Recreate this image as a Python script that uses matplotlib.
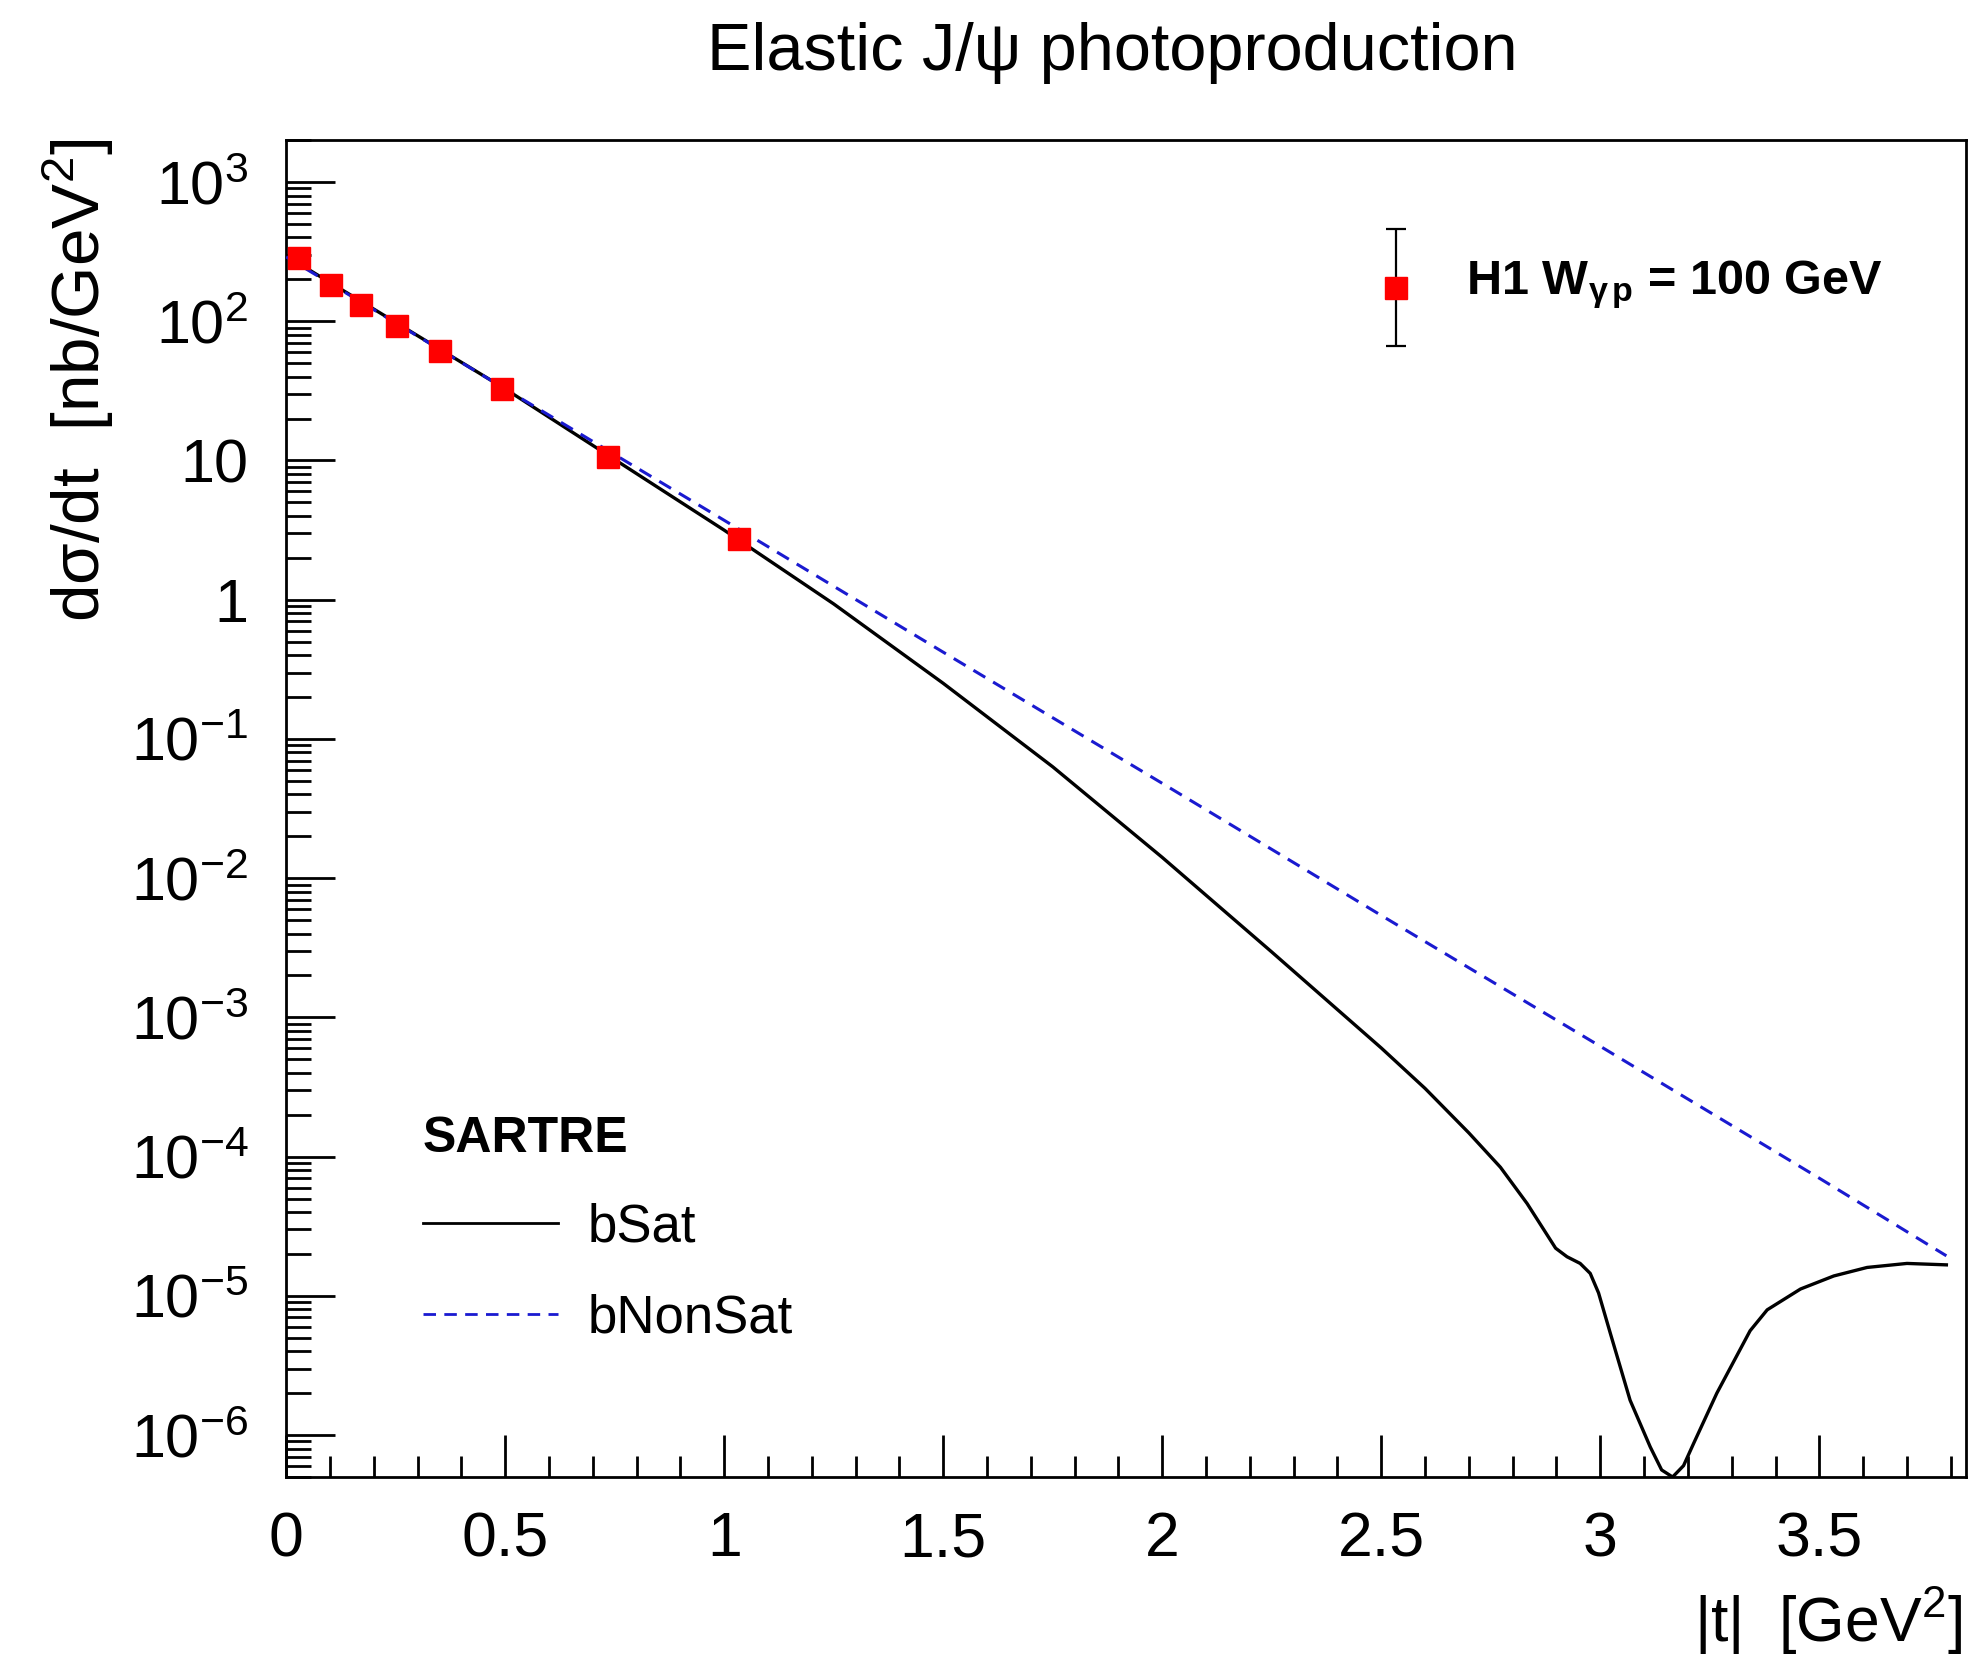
import numpy as np
import matplotlib
matplotlib.use("Agg")
import matplotlib.pyplot as plt
from matplotlib.ticker import FixedLocator, FuncFormatter, NullFormatter
from matplotlib.lines import Line2D
from matplotlib.legend_handler import HandlerErrorbar

plt.rcParams['font.family'] = ['Liberation Sans', 'DejaVu Sans']
plt.rcParams['mathtext.fontset'] = 'custom'
plt.rcParams['mathtext.rm'] = 'Liberation Sans'
plt.rcParams['mathtext.it'] = 'Liberation Sans'
plt.rcParams['mathtext.bf'] = 'Liberation Sans:bold'

# H1 data, W_gp = 100 GeV
t_h1 = [0.030, 0.102, 0.172, 0.253, 0.352, 0.493, 0.734, 1.034]
dsdt_h1 = [286, 181, 131, 92.4, 61.4, 32.6, 10.6, 2.71]
err_h1 = [20, 12, 9, 6, 4, 2.3, 0.8, 0.25]

# SARTRE bSat (solid)
t_bsat = [0.0, 0.5, 1.0, 1.25, 1.5, 1.75, 2.0, 2.25, 2.5, 2.6, 2.7, 2.772, 2.833,
          2.898, 2.924, 2.954, 2.977, 2.996, 3.023, 3.068, 3.114, 3.14, 3.165,
          3.19, 3.213, 3.266, 3.342, 3.381, 3.457, 3.533, 3.609, 3.70, 3.79]
dsdt_bsat = [295, 32.7, 3.16, 0.933, 0.251, 0.0631, 0.0141, 2.95e-3, 6.03e-4,
             3.09e-4, 1.48e-4, 8.39e-5, 4.60e-5, 2.20e-5, 1.91e-5, 1.71e-5,
             1.45e-5, 1.05e-5, 5.37e-6, 1.78e-6, 8.22e-7, 5.62e-7, 5.0e-7,
             6.03e-7, 8.71e-7, 2.0e-6, 5.62e-6, 7.94e-6, 1.12e-5, 1.39e-5,
             1.60e-5, 1.71e-5, 1.67e-5]

# SARTRE bNonSat (dashed)
t_bnonsat = [0.0, 0.5, 1.0, 1.5, 2.0, 2.5, 3.0, 3.5, 3.79]
dsdt_bnonsat = [290, 32.7, 3.72, 0.42, 0.048, 5.4e-3, 6.2e-4, 7.0e-5, 1.94e-5]

x_major = [0, 0.5, 1, 1.5, 2, 2.5, 3, 3.5]
y_decades = [1e-6, 1e-5, 1e-4, 1e-3, 1e-2, 1e-1, 1, 10, 1e2, 1e3]


class ShiftedErrorbar(HandlerErrorbar):
    # legend marker sits a bit lower than the text, as in the ROOT legend
    def create_artists(self, legend, orig_handle, xdescent, ydescent, width, height,
                       fontsize, trans):
        return super().create_artists(legend, orig_handle, xdescent, ydescent + 14.4,
                                      width, height, fontsize, trans)


fig = plt.figure(figsize=(19.73, 16.68), dpi=100)
ax = fig.add_axes([0.145, 0.1145, 0.8515, 0.8015])

ax.plot(t_bsat, dsdt_bsat, color='black', lw=2.4, zorder=3)
ax.plot(t_bnonsat, dsdt_bnonsat, color='#1a1ad0', lw=2.2, dashes=(4.5, 3.0), zorder=3)
eb = ax.errorbar(t_h1, dsdt_h1, yerr=err_h1, fmt='s', ms=16, color='red', mec='red',
                 ecolor='black', elinewidth=1.6, capsize=7, capthick=1.6, zorder=4)

ax.set_yscale('log')
ax.set_xlim(0, 3.835)
ax.set_ylim(5.0e-7, 2.0e3)

for s in ax.spines.values():
    s.set_linewidth(2.0)

def fmt_y(v, pos):
    e = int(round(np.log10(v)))
    if e == 0:
        return '1'
    if e == 1:
        return '10'
    return r'$10^{%d}$' % e

y_minor = [d * k for d in [1e-7] + y_decades for k in range(2, 10)]
ax.yaxis.set_major_locator(FixedLocator(y_decades))
ax.yaxis.set_minor_locator(FixedLocator([v for v in y_minor if 5.0e-7 <= v <= 2.0e3]))
ax.yaxis.set_major_formatter(FuncFormatter(fmt_y))
ax.yaxis.set_minor_formatter(NullFormatter())
ax.xaxis.set_major_locator(FixedLocator(x_major))
ax.xaxis.set_minor_locator(FixedLocator([k / 10 for k in range(0, 39) if k % 5]))
ax.xaxis.set_major_formatter(FuncFormatter(lambda v, p: '%g' % v))
ax.xaxis.set_minor_formatter(NullFormatter())

ax.tick_params(axis='both', which='both', direction='in', top=False, right=False,
               width=2.0)
ax.tick_params(axis='x', which='major', length=30, pad=24, labelsize=45)
ax.tick_params(axis='x', which='minor', length=15)
ax.tick_params(axis='y', which='major', length=35, pad=27, labelsize=44)
ax.tick_params(axis='y', which='minor', length=18)

fig.text(0.564, 0.968, 'Elastic J/ψ photoproduction', fontsize=48, ha='center', va='center')
fig.text(0.0395, 0.917, 'dσ/dt  [nb/GeV$^{2}$]', fontsize=48.5, rotation=90,
         ha='center', va='top')
fig.text(0.9945, 0.016, '|t|  [GeV$^{2}$]', fontsize=45, ha='right', va='baseline')

# H1 legend
leg1 = ax.legend([eb], [r'H1 W$_{\mathbf{\gamma\, p}}$ = 100 GeV'], loc='center left',
                 bbox_to_anchor=(0.646, 0.8916), frameon=False, numpoints=1,
                 handlelength=1.0, handletextpad=0.95, borderpad=0, borderaxespad=0,
                 prop={'size': 35, 'weight': 'bold'},
                 handler_map={type(eb): ShiftedErrorbar(xerr_size=0.0, yerr_size=1.2)})
ax.add_artist(leg1)

# SARTRE legend
h_sat = Line2D([], [], color='black', lw=2.0)
h_nonsat = Line2D([], [], color='#1a1ad0', lw=2.0, dashes=(4.5, 3.0))
leg2 = ax.legend([h_sat, h_nonsat], ['bSat', 'bNonSat'], loc='upper left',
                 bbox_to_anchor=(0.0815, 0.270), frameon=False, prop={'size': 38},
                 title='SARTRE', title_fontproperties={'size': 36, 'weight': 'bold'},
                 alignment='left', handlelength=2.55, handletextpad=0.57,
                 labelspacing=0.77, borderpad=0, borderaxespad=0)

fig.savefig('out.png', dpi=100)
